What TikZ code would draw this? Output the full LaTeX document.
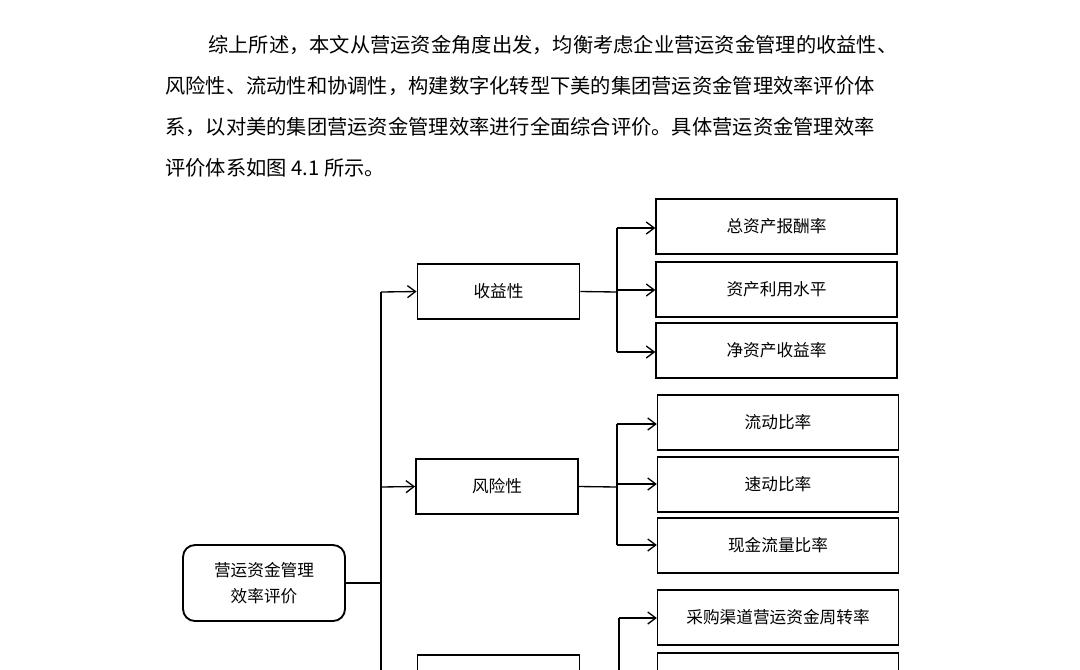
\documentclass[tikz,border=0pt]{standalone}
\usepackage{fontspec}
\newfontfamily\cjk{Noto Sans CJK SC}
\usetikzlibrary{arrows.meta}
\begin{document}
\begin{tikzpicture}[x=0.75pt,y=-0.75pt,
  para/.style={anchor=west,inner sep=0pt,font=\cjk\fontsize{15.2pt}{18pt}\selectfont},
  box/.style={draw,line width=1.4pt,minimum width=162*0.75pt,minimum height=55*0.75pt,font=\cjk\fontsize{12.5pt}{15pt}\selectfont},
  leaf/.style={draw,line width=1pt,minimum width=241*0.75pt,minimum height=55*0.75pt,font=\cjk\fontsize{12.5pt}{15pt}\selectfont},
  conn/.style={line width=1pt},
  arr/.style={conn,-{Straight Barb[length=6pt,width=9pt]}}]
\useasboundingbox (0,0) rectangle (1080,669);
\clip (0,0) rectangle (1080,669);
\node[para] (p1) at (208,45) {综上所述，本文从营运资金角度出发，均衡考虑企业营运资金管理的收益性、};
\node[para] (p2) at (165,86) {风险性、流动性和协调性，构建数字化转型下美的集团营运资金管理效率评价体};
\node[para] (p3) at (165,127) {系，以对美的集团营运资金管理效率进行全面综合评价。具体营运资金管理效率};
\node[para] (p4) at (165,168) {评价体系如图 4.1 所示。};

\node[draw,line width=1.4pt,rounded corners=9pt,minimum width=162*0.75pt,minimum height=76*0.75pt,align=center,font=\cjk\fontsize{12.5pt}{19pt}\selectfont] (root) at (264,583) {营运资金管理\\效率评价};
\node[box] (a) at (498.5,291.5) {收益性};
\node[box] (b) at (497,486.5) {风险性};
\node[box] (c) at (498.5,682.5) {};

\node[leaf] (a1) at (776.5,226.5) {总资产报酬率};
\node[leaf] (a2) at (776.5,289.5) {资产利用水平};
\node[leaf] (a3) at (776.5,350.5) {净资产收益率};
\node[leaf] (b1) at (778,422.5) {流动比率};
\node[leaf] (b2) at (778,484.5) {速动比率};
\node[leaf] (b3) at (778,545.5) {现金流量比率};
\node[leaf] (c1) at (778,617.5) {采购渠道营运资金周转率};
\node[leaf] (c2) at (778,680.5) {};

\coordinate (t) at (381,583);
\draw[conn] (root.east) -- (t);
\draw[conn] (381,292) -- (381,700);
\draw[arr] (381,292) -- (a.west);
\draw[arr] (381,487) -- (b.west);

\draw[conn] (a.east) -- (617,292);
\draw[conn] (617,228) -- (617,352);
\draw[arr] (617,228) -- (a1.west|-617,228);
\draw[arr] (617,290) -- (a2.west|-617,290);
\draw[arr] (617,352) -- (a3.west|-617,352);

\draw[conn] (b.east) -- (617,487);
\draw[conn] (617,424) -- (617,545);
\draw[arr] (617,424) -- (b1.west|-617,424);
\draw[arr] (617,484) -- (b2.west|-617,484);
\draw[arr] (617,545) -- (b3.west|-617,545);

\draw[conn] (619,618) -- (619,700);
\draw[arr] (619,618) -- (c1.west|-619,618);
\end{tikzpicture}
\end{document}
